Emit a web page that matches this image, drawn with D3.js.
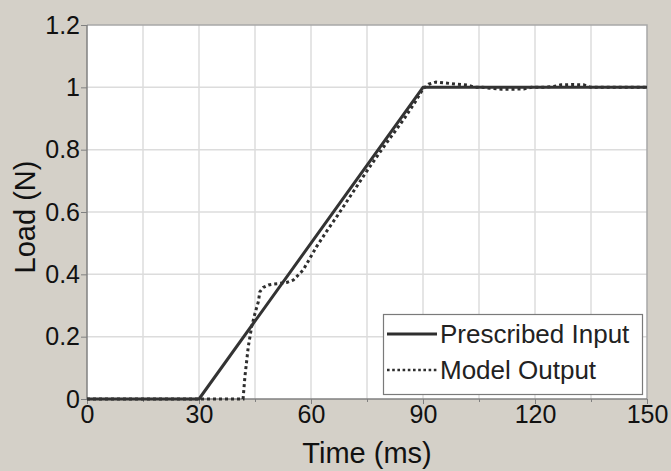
<!DOCTYPE html>
<html>
<head>
<meta charset="utf-8">
<script src="https://cdn.jsdelivr.net/npm/d3@7"></script>
<style>
  body { margin: 0; background: #d4d0c8; }
  svg { display: block; font-family: "Liberation Sans", Arial, sans-serif; }
</style>
</head>
<body>
<script>
// prescribed ramp input
const inputTime = [0, 30, 90, 150];
const inputLoad = [0, 0, 1, 1];

// model output
const outputTime = [0, 41.8, 42.3, 42.8, 43.2, 44.1, 45.0, 45.9, 46.3, 47.2, 48.6, 50, 51.7, 53.5, 55.3, 57.9, 61.5, 64, 66.9, 69.5, 72.2, 75, 77.6, 80, 82.1, 85, 88, 90, 91.5, 93.5, 96, 99, 102, 104, 106, 108, 111, 114, 117, 119, 122, 125, 127, 130, 133, 135, 140, 150];
const outputLoad = [0, 0, 0.072, 0.125, 0.168, 0.232, 0.275, 0.312, 0.344, 0.358, 0.366, 0.369, 0.371, 0.374, 0.382, 0.414, 0.489, 0.535, 0.585, 0.632, 0.681, 0.732, 0.777, 0.818, 0.852, 0.9, 0.955, 0.995, 1.01, 1.017, 1.014, 1.01, 1.007, 1.0, 1.0, 0.997, 0.994, 0.994, 0.995, 1.0, 1.0, 1.003, 1.008, 1.009, 1.008, 1.0, 1.0, 1.0];

const xTicks = [0, 30, 60, 90, 120, 150];
const xGrid = [15, 30, 45, 60, 75, 90, 105, 120, 135];
const yTicks = [0, 0.2, 0.4, 0.6, 0.8, 1, 1.2];

const seriesNames = ['Prescribed Input', 'Model Output'];

let svg = d3.select('body')
  .append('svg')
  .attr('width', 671)
  .attr('height', 471);

let plot = {left: 87, right: 647, top: 25, bottom: 399};

let xScale = d3.scaleLinear().domain([0, 150]).range([plot.left, plot.right]);
let yScale = d3.scaleLinear().domain([0, 1.2]).range([plot.bottom, plot.top]);

// white plot area
svg.append('rect')
  .attr('x', plot.left)
  .attr('y', plot.top)
  .attr('width', plot.right - plot.left)
  .attr('height', plot.bottom - plot.top)
  .attr('fill', 'white');

// grid
svg.append('g')
  .selectAll('line')
  .data(xGrid)
  .enter()
  .append('line')
  .attr('x1', (d) => xScale(d))
  .attr('x2', (d) => xScale(d))
  .attr('y1', plot.top)
  .attr('y2', plot.bottom)
  .attr('stroke', '#dcdcdc')
  .attr('stroke-width', 1.5);

svg.append('g')
  .selectAll('line')
  .data(yTicks.slice(1, -1))
  .enter()
  .append('line')
  .attr('x1', plot.left)
  .attr('x2', plot.right)
  .attr('y1', (d) => yScale(d))
  .attr('y2', (d) => yScale(d))
  .attr('stroke', '#dcdcdc')
  .attr('stroke-width', 1.5);

// frame on top and right
svg.append('path')
  .attr('d', 'M' + plot.left + ',' + plot.top + 'H' + plot.right + 'V' + plot.bottom)
  .attr('fill', 'none')
  .attr('stroke', '#a8a8a8')
  .attr('stroke-width', 1.5);

// axes
let xAxis = d3.axisBottom(xScale)
  .tickValues(xTicks)
  .tickSize(5)
  .tickPadding(1)
  .tickFormat(d3.format('d'));

let gx = svg.append('g')
  .attr('transform', 'translate(0,' + plot.bottom + ')')
  .call(xAxis);
gx.selectAll('text').style('font-size', '25px').attr('fill', '#111');

// minor x ticks
let xMinor = d3.axisBottom(xScale)
  .tickValues(xGrid.filter((d) => d % 30 != 0))
  .tickSize(3)
  .tickFormat('');
let gxm = svg.append('g')
  .attr('transform', 'translate(0,' + plot.bottom + ')')
  .call(xMinor);
gxm.select('.domain').remove();

let yAxis = d3.axisLeft(yScale)
  .tickValues(yTicks)
  .tickSize(6)
  .tickPadding(1)
  .tickFormat((d) => d3.format('')(d));

let gy = svg.append('g')
  .attr('transform', 'translate(' + plot.left + ',0)')
  .call(yAxis);
gy.selectAll('text').style('font-size', '25px').attr('fill', '#111');

[gx, gxm, gy].forEach((g) => {
  g.select('.domain').attr('stroke', '#808080').attr('stroke-width', 1.5);
  g.selectAll('.tick line').attr('stroke', '#808080');
});
gy.select('.domain').attr('d', 'M0,' + plot.top + 'V' + plot.bottom);
gx.select('.domain').attr('d', 'M' + plot.left + ',0H' + plot.right);

// lines
let line = d3.line()
  .x((d) => xScale(d[0]))
  .y((d) => yScale(d[1]));

svg.append('path')
  .datum(d3.zip(outputTime, outputLoad))
  .attr('fill', 'none')
  .attr('stroke', '#2e2e2e')
  .attr('stroke-width', 3)
  .attr('stroke-dasharray', '3,3')
  .attr('d', line);

svg.append('path')
  .datum(d3.zip(inputTime, inputLoad))
  .attr('fill', 'none')
  .attr('stroke', '#333')
  .attr('stroke-width', 3)
  .attr('stroke-linejoin', 'round')
  .attr('d', line);

// axis titles
svg.append('text')
  .attr('x', 367)
  .attr('y', 463)
  .attr('text-anchor', 'middle')
  .style('font-size', '29px')
  .attr('fill', '#111')
  .text('Time (ms)');

svg.append('text')
  .attr('transform', 'translate(35, 217)rotate(-90)')
  .attr('text-anchor', 'middle')
  .style('font-size', '29px')
  .attr('fill', '#111')
  .text('Load (N)');

// legend
let legend = svg.append('g');
legend.append('rect')
  .attr('x', 383.5)
  .attr('y', 314.5)
  .attr('width', 259)
  .attr('height', 80)
  .attr('fill', 'white')
  .attr('stroke', '#7a7a7a')
  .attr('stroke-width', 1.2);

legend.selectAll('.leg-line')
  .data(seriesNames)
  .enter()
  .append('line')
  .attr('x1', 387)
  .attr('x2', 437)
  .attr('y1', (d, i) => 334 + i * 36)
  .attr('y2', (d, i) => 334 + i * 36)
  .attr('stroke', '#2e2e2e')
  .attr('stroke-width', (d, i) => i == 0 ? 3 : 2.6)
  .attr('stroke-dasharray', (d, i) => i == 0 ? null : '2.6,2.6');

legend.selectAll('.leg-text')
  .data(seriesNames)
  .enter()
  .append('text')
  .attr('x', 440)
  .attr('y', (d, i) => 343 + i * 36)
  .style('font-size', '26px')
  .attr('fill', '#222')
  .text((d) => d);
</script>
</body>
</html>
